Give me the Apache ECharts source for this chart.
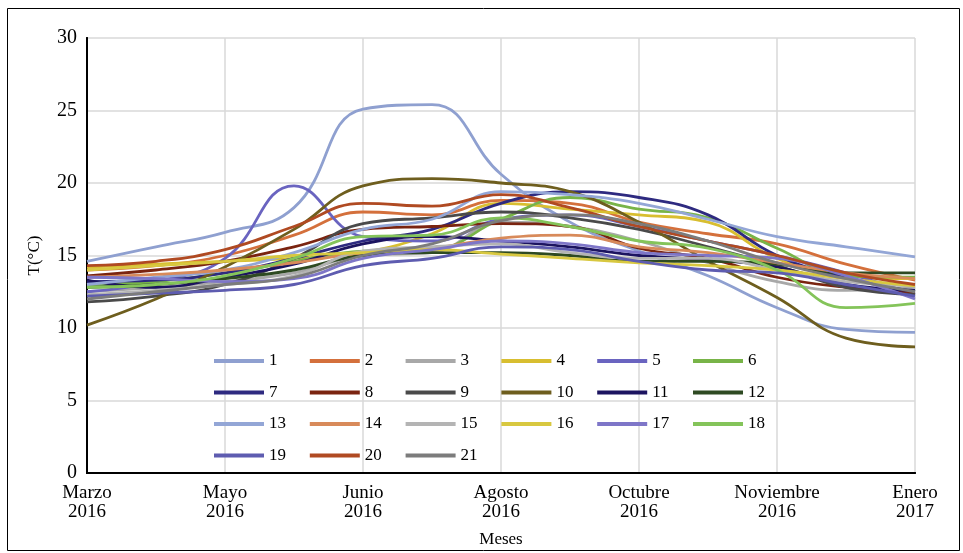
<!DOCTYPE html>
<html>
<head>
<meta charset="utf-8">
<script src="https://cdn.jsdelivr.net/npm/echarts@6/dist/echarts.min.js"></script>
<style>
  html, body { margin: 0; padding: 0; background: #fff; }
  #chart { width: 963px; height: 553px; }
</style>
</head>
<body>
<div id="chart"></div>
<script>
// Axis labels (month ticks) and the sampling positions along the month axis
const months = ['Marzo\n2016', 'Mayo\n2016', 'Junio\n2016', 'Agosto\n2016', 'Octubre\n2016', 'Noviembre\n2016', 'Enero\n2017'];
const samplePos = [0, 0.5, 1, 1.5, 2, 2.5, 3, 3.5, 4, 4.5, 5, 5.5, 6];
const yTicks = [0, 5, 10, 15, 20, 25, 30];

// Temperature (°C) of each station at the sampling positions
const s1  = [14.6, 15.6, 16.6, 18.3, 25.1, 25.4, 20.6, 17.3, 15.3, 13.6, 11.4, 9.9, 9.7];
const s2  = [14.0, 14.3, 15.0, 16.4, 18.0, 17.8, 18.8, 18.6, 17.3, 16.5, 15.8, 14.4, 13.3];
const s3  = [12.5, 12.8, 13.2, 13.8, 15.0, 15.2, 17.3, 17.0, 16.0, 14.5, 13.2, 12.6, 12.8];
const s4  = [14.2, 14.4, 14.6, 14.8, 15.2, 16.5, 18.6, 18.2, 17.8, 17.3, 14.8, 13.6, 13.4];
const s5  = [12.5, 13.2, 14.8, 19.8, 16.3, 16.0, 17.5, 17.8, 17.0, 16.0, 15.0, 13.8, 12.3];
const s6  = [13.0, 13.2, 13.8, 14.6, 15.3, 15.4, 17.5, 19.0, 18.2, 17.6, 15.5, 13.6, 13.5];
const s7  = [13.2, 13.3, 13.8, 14.8, 16.0, 16.8, 18.6, 19.4, 19.0, 17.8, 15.0, 13.5, 12.5];
const s8  = [13.6, 14.0, 14.6, 15.6, 16.8, 17.0, 17.2, 17.0, 15.5, 14.8, 13.5, 12.8, 12.4];
const s9  = [11.8, 12.2, 13.0, 14.8, 17.2, 17.6, 18.0, 17.6, 16.8, 15.6, 14.3, 12.8, 12.3];
const s10 = [10.2, 12.0, 14.2, 16.8, 19.8, 20.3, 20.0, 19.4, 17.3, 14.6, 12.1, 9.3, 8.7];
const s11 = [13.3, 12.8, 13.5, 14.4, 15.8, 16.3, 16.0, 15.6, 15.0, 14.7, 14.2, 13.0, 12.6];
const s12 = [12.8, 13.0, 13.4, 14.0, 15.0, 15.2, 15.2, 15.0, 14.6, 14.6, 14.4, 13.8, 13.8];
const s13 = [13.0, 13.5, 14.0, 15.2, 16.8, 17.5, 19.4, 19.2, 18.6, 17.5, 16.3, 15.6, 14.9];
const s14 = [13.5, 13.7, 14.0, 14.5, 15.2, 15.5, 16.2, 16.4, 15.6, 15.2, 14.5, 13.8, 13.4];
const s15 = [12.3, 12.6, 13.0, 13.6, 15.3, 15.6, 15.8, 15.2, 14.8, 14.8, 14.0, 13.2, 12.9];
const s16 = [14.0, 14.3, 14.6, 15.0, 15.2, 15.4, 15.1, 14.8, 14.5, 14.3, 14.0, 13.4, 12.9];
const s17 = [13.5, 13.4, 13.2, 13.4, 14.8, 15.4, 16.0, 15.8, 15.2, 15.0, 14.8, 13.6, 12.0];
const s18 = [12.8, 13.0, 13.6, 14.8, 16.3, 16.4, 17.6, 17.0, 16.0, 15.5, 14.0, 11.4, 11.7];
const s19 = [12.2, 12.4, 12.6, 13.0, 14.3, 14.8, 15.6, 15.4, 14.6, 14.0, 13.8, 13.0, 12.2];
const s20 = [14.3, 14.6, 15.4, 17.0, 18.6, 18.4, 19.2, 18.3, 17.0, 16.0, 15.0, 13.8, 13.0];
const s21 = [12.0, 12.5, 13.0, 13.5, 15.0, 15.8, 17.4, 17.8, 17.2, 16.0, 14.5, 13.4, 12.5];

const stationNames = ['1','2','3','4','5','6','7','8','9','10','11','12','13','14','15','16','17','18','19','20','21'];
const stationTemps = [s1, s2, s3, s4, s5, s6, s7, s8, s9, s10, s11, s12, s13, s14, s15, s16, s17, s18, s19, s20, s21];

const palette = [
  '#8FA0D0', '#D4703C', '#A8A8A8', '#D8BE30', '#6A64C0', '#78B448',
  '#2E2A80', '#7A2410', '#4A4A4A', '#6E5E1E', '#1C1460', '#2E4A22',
  '#93A6D6', '#D88A5A', '#B4B4B4', '#D8C840', '#7E76C8', '#84C45A',
  '#5E5CB0', '#B04A22', '#7C7C7C'
];

const serif = 'Liberation Serif';

const series = stationNames.map((name, i) => ({
  name: name,
  type: 'line',
  smooth: 0.45,
  showSymbol: false,
  symbol: 'none',
  data: samplePos.map((x, k) => [x, stationTemps[i][k]]),
  lineStyle: { width: 2.8, color: palette[i] },
  itemStyle: { color: palette[i] },
  emphasis: { disabled: true }
}));

// Six legend columns, each listing every sixth station
const legends = [];
for (let c = 0; c < 6; c++) {
  const names = stationNames.filter((_, i) => i % 6 === c);
  legends.push({
    orient: 'vertical',
    left: 214 + 95.8 * c,
    top: 352,
    padding: 0,
    data: names,
    icon: 'rect',
    itemWidth: 50,
    itemHeight: 4,
    itemGap: 13.5,
    selectedMode: false,
    textStyle: { fontFamily: serif, fontSize: 17, color: '#000', lineHeight: 18 }
  });
}

const frameLine = { show: true, lineStyle: { color: '#000', width: 2 } };

const chart = echarts.init(document.getElementById('chart'), null, { renderer: 'canvas' });
chart.setOption({
  backgroundColor: '#fff',
  animation: false,
  color: palette,
  grid: { left: 87, right: 48, top: 38, bottom: 78 },
  legend: legends,
  xAxis: [{
    type: 'value',
    min: 0, max: 6, interval: 1,
    name: 'Meses',
    nameLocation: 'middle',
    nameGap: 58,
    nameTextStyle: { fontFamily: serif, fontSize: 17, color: '#000' },
    axisLine: frameLine,
    axisTick: { show: false },
    axisLabel: {
      margin: 11,
      fontFamily: serif, fontSize: 19, color: '#000', lineHeight: 19,
      formatter: v => months[Math.round(v)] || ''
    },
    splitLine: { show: true, lineStyle: { color: '#D9D9D9', width: 1.5 } }
  }, {
    // top edge of the plot frame
    type: 'value', position: 'top', min: 0, max: 6,
    axisLine: frameLine, axisTick: { show: false }, axisLabel: { show: false }, splitLine: { show: false }
  }],
  yAxis: [{
    type: 'value',
    min: yTicks[0], max: yTicks[yTicks.length - 1], interval: 5,
    name: 'T(°C)',
    nameLocation: 'middle',
    nameGap: 44,
    nameRotate: 90,
    nameTextStyle: { fontFamily: serif, fontSize: 17, color: '#000' },
    axisLine: frameLine,
    axisTick: { show: false },
    axisLabel: { margin: 10, fontFamily: serif, fontSize: 20, color: '#000' },
    splitLine: { show: true, lineStyle: { color: '#D9D9D9', width: 1.5 } }
  }, {
    // right edge of the plot frame
    type: 'value', position: 'right', min: 0, max: 30,
    axisLine: frameLine, axisTick: { show: false }, axisLabel: { show: false }, splitLine: { show: false }
  }],
  graphic: [{
    type: 'rect',
    left: 5, top: 6,
    shape: { width: 952, height: 542 },
    style: { fill: 'none', stroke: '#000', lineWidth: 1 },
    silent: true
  }],
  series: series
});
</script>
</body>
</html>
